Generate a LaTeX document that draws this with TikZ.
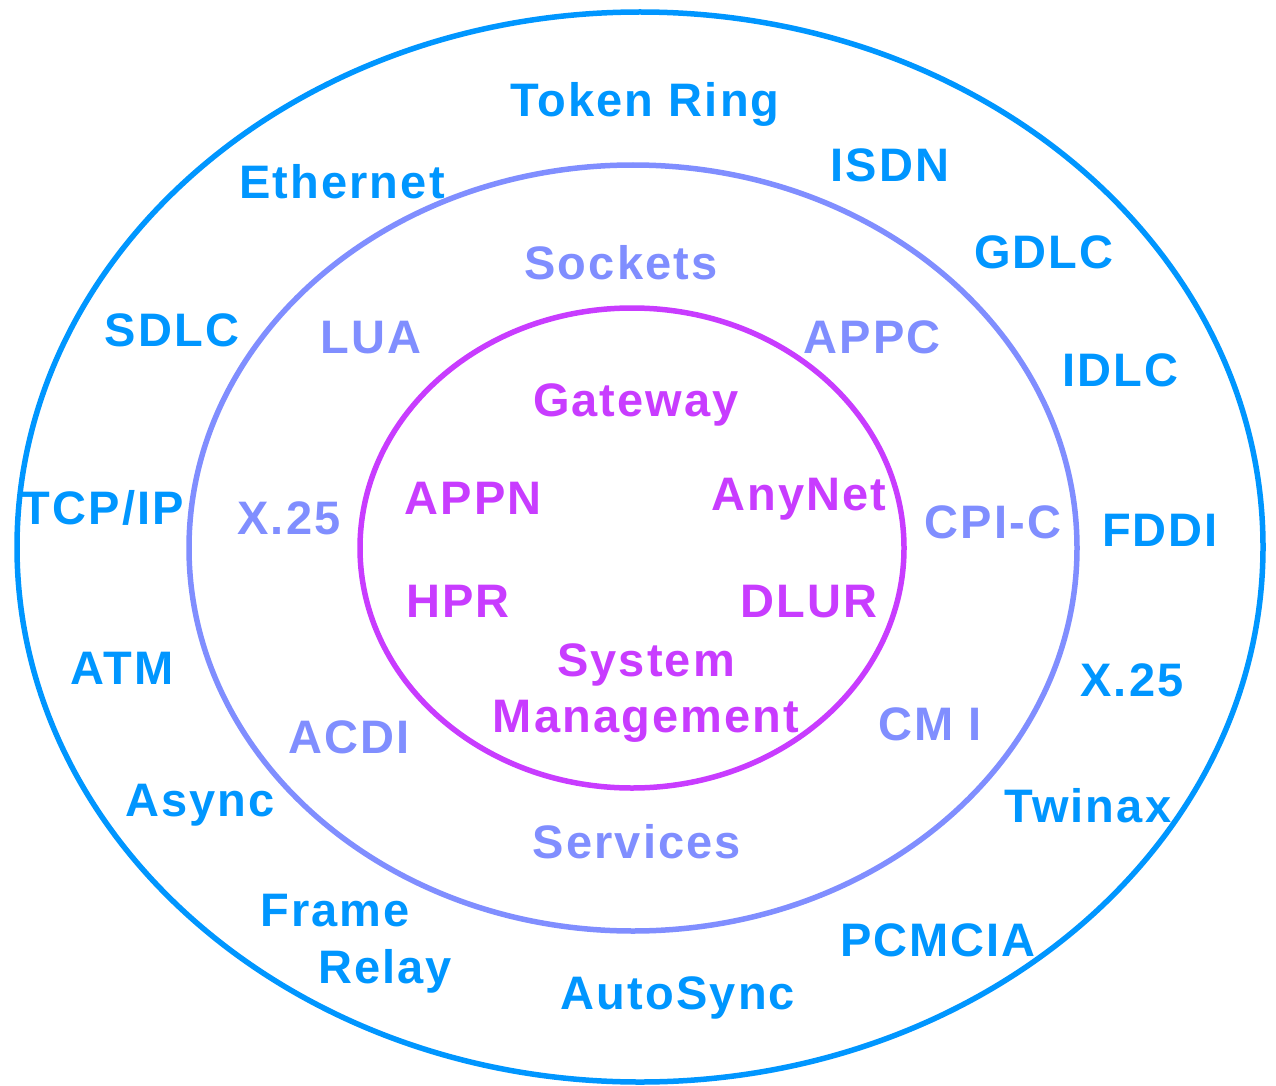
\documentclass[tikz,border=0pt]{standalone}
\usepackage{fontspec}
\setmainfont{Liberation Sans}[LetterSpace=4.5]
\definecolor{outerc}{RGB}{0,150,255}
\definecolor{midc}{RGB}{128,142,255}
\definecolor{innerc}{RGB}{200,60,255}
\tikzset{
  lbl/.style={font=\fontsize{47}{56}\selectfont\bfseries, inner sep=0pt, anchor=center,
    text height=33.6pt, text depth=0pt},
  outl/.style={lbl, text=outerc},
  midl/.style={lbl, text=midc},
  innl/.style={lbl, text=innerc, align=center},
  ring/.style={line width=5.5pt}
}
\begin{document}
\begin{tikzpicture}[x=1pt,y=-1pt]
\useasboundingbox (0,0) rectangle (1276,1086);
% rings
\draw[ring, draw=outerc] (640,547) ellipse [x radius=623, y radius=535];
\draw[ring, draw=midc] (633,548) ellipse [x radius=444, y radius=383];
\draw[ring, draw=innerc] (632,548) ellipse [x radius=272, y radius=240];
% outer labels
\node[outl] (tokenring) at (645,100) {Token Ring};
\node[outl] (ethernet) at (342,182) {Ethernet};
\node[outl] (isdn) at (890,165) {ISDN};
\node[outl] (gdlc) at (1044,252) {GDLC};
\node[outl] (sdlc) at (172,330) {SDLC};
\node[outl] (idlc) at (1120,370) {IDLC};
\node[outl] (tcpip) at (103,508) {TCP/IP};
\node[outl] (fddi) at (1160,530) {FDDI};
\node[outl] (atm) at (122,668) {ATM};
\node[outl] (xoutl) at (1132,680) {X.25};
\node[outl] (async) at (200,800) {Async};
\node[outl] (twinax) at (1088,806) {Twinax};
\node[outl] (frame) at (335,910) {Frame};
\node[outl] (relay) at (385,967) {Relay};
\node[outl] (pcmcia) at (938,940) {PCMCIA};
\node[outl] (autosync) at (678,993) {AutoSync};
% middle labels
\node[midl] (sockets) at (621,263) {Sockets};
\node[midl] (lua) at (371,337) {LUA};
\node[midl] (appc) at (872,337) {APPC};
\node[midl] (xmid) at (289,518) {X.25};
\node[midl] (cpic) at (993,522) {CPI-C};
\node[midl] (acdi) at (349,737) {ACDI};
\node[midl] (cmi) at (930,724) {CM I};
\node[midl] (services) at (637,842) {Services};
% inner labels
\node[innl] (gateway) at (636,400) {Gateway};
\node[innl] (appn) at (473,498) {APPN};
\node[innl] (anynet) at (799,494) {AnyNet};
\node[innl] (hpr) at (458,601) {HPR};
\node[innl] (dlur) at (809,601) {DLUR};
\node[innl] (sysmgmt) at (646,716) {System\\Management};
\end{tikzpicture}
\end{document}
